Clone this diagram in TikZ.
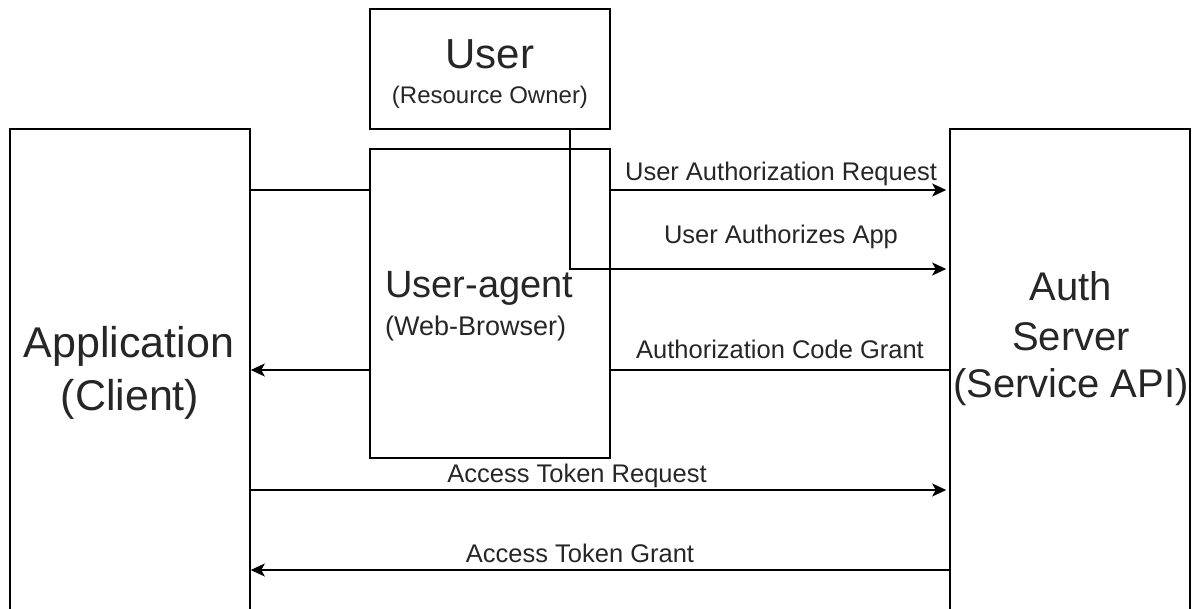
\documentclass[tikz,border=0pt]{standalone}
\usepackage{fontspec}
\setmainfont{Liberation Sans}
\usetikzlibrary{arrows.meta}

\begin{document}
\begin{tikzpicture}[x=1pt,y=-1pt,
  box/.style={draw, line width=1.6pt, inner sep=0pt, minimum width=240pt},
  flow/.style={line width=1.6pt},
  msg/.style={flow, -{Stealth[length=14pt,width=13pt,inset=3.5pt]}},
  msgr/.style={msg, shorten >=3pt},
  lbl/.style={font=\fontsize{25.5}{30}\selectfont, inner sep=0pt, anchor=base, text=black!85},
  title/.style={inner sep=0pt, anchor=base, text=black!85}]

  \useasboundingbox (0,0) rectangle (1201,608);
  \clip (0,0) rectangle (1201,608);

  % participants
  \node[box, minimum height=120pt] (user) at (490,69) {};
  \node[box, minimum height=309pt] (ua)   at (490,303.5) {};
  \node[box, minimum height=482pt] (app)  at (130,370) {};
  \node[box, minimum height=482pt] (auth) at (1070,370) {};

  % participant titles
  \node[title, font=\fontsize{42}{50}\selectfont] (userT) at (490,68) {User};
  \node[title, font=\fontsize{24}{29}\selectfont] (userS) at (490,103) {(Resource Owner)};

  \node[title, anchor=base west, font=\fontsize{38}{46}\selectfont] (uaT) at (385,297) {User-agent};
  \node[title, anchor=base west, font=\fontsize{27}{32}\selectfont] (uaS) at (385,335) {(Web-Browser)};

  \node[title, font=\fontsize{43}{52}\selectfont] (appT) at (129,357) {Application};
  \node[title, font=\fontsize{43}{52}\selectfont] (appS) at (130,410) {(Client)};

  \node[title, font=\fontsize{40}{48}\selectfont] (authT) at (1071,300) {Auth};
  \node[title, font=\fontsize{40}{48}\selectfont] (authM) at (1071,350) {Server};
  \node[title, font=\fontsize{40}{48}\selectfont] (authS) at (1071,397) {(Service API)};

  % message rows
  \coordinate (r1) at (0,190);
  \coordinate (bend) at (570,269);
  \coordinate (r3) at (0,370);
  \coordinate (r4) at (0,490);
  \coordinate (r5) at (0,570);

  % connectors
  \draw[flow] (app.east |- r1) -- (ua.west |- r1);
  \draw[msg]  (ua.west |- r3) -- (app.east |- r3);
  \draw[msgr] (ua.east |- r1) -- (auth.west |- r1);
  \draw[msgr] (user.south -| bend) -- (bend) -- (auth.west |- bend);
  \draw[flow] (auth.west |- r3) -- (ua.east |- r3);
  \draw[msgr] (app.east |- r4) -- (auth.west |- r4);
  \draw[msg]  (auth.west |- r5) -- (app.east |- r5);

  % message labels
  \node[lbl] (l1) at (781,180) {User Authorization Request};
  \node[lbl] (l2) at (781,243) {User Authorizes App};
  \node[lbl] (l3) at (780,358) {Authorization Code Grant};
  \node[lbl] (l4) at (577,482) {Access Token Request};
  \node[lbl] (l5) at (580,562) {Access Token Grant};
\end{tikzpicture}
\end{document}
